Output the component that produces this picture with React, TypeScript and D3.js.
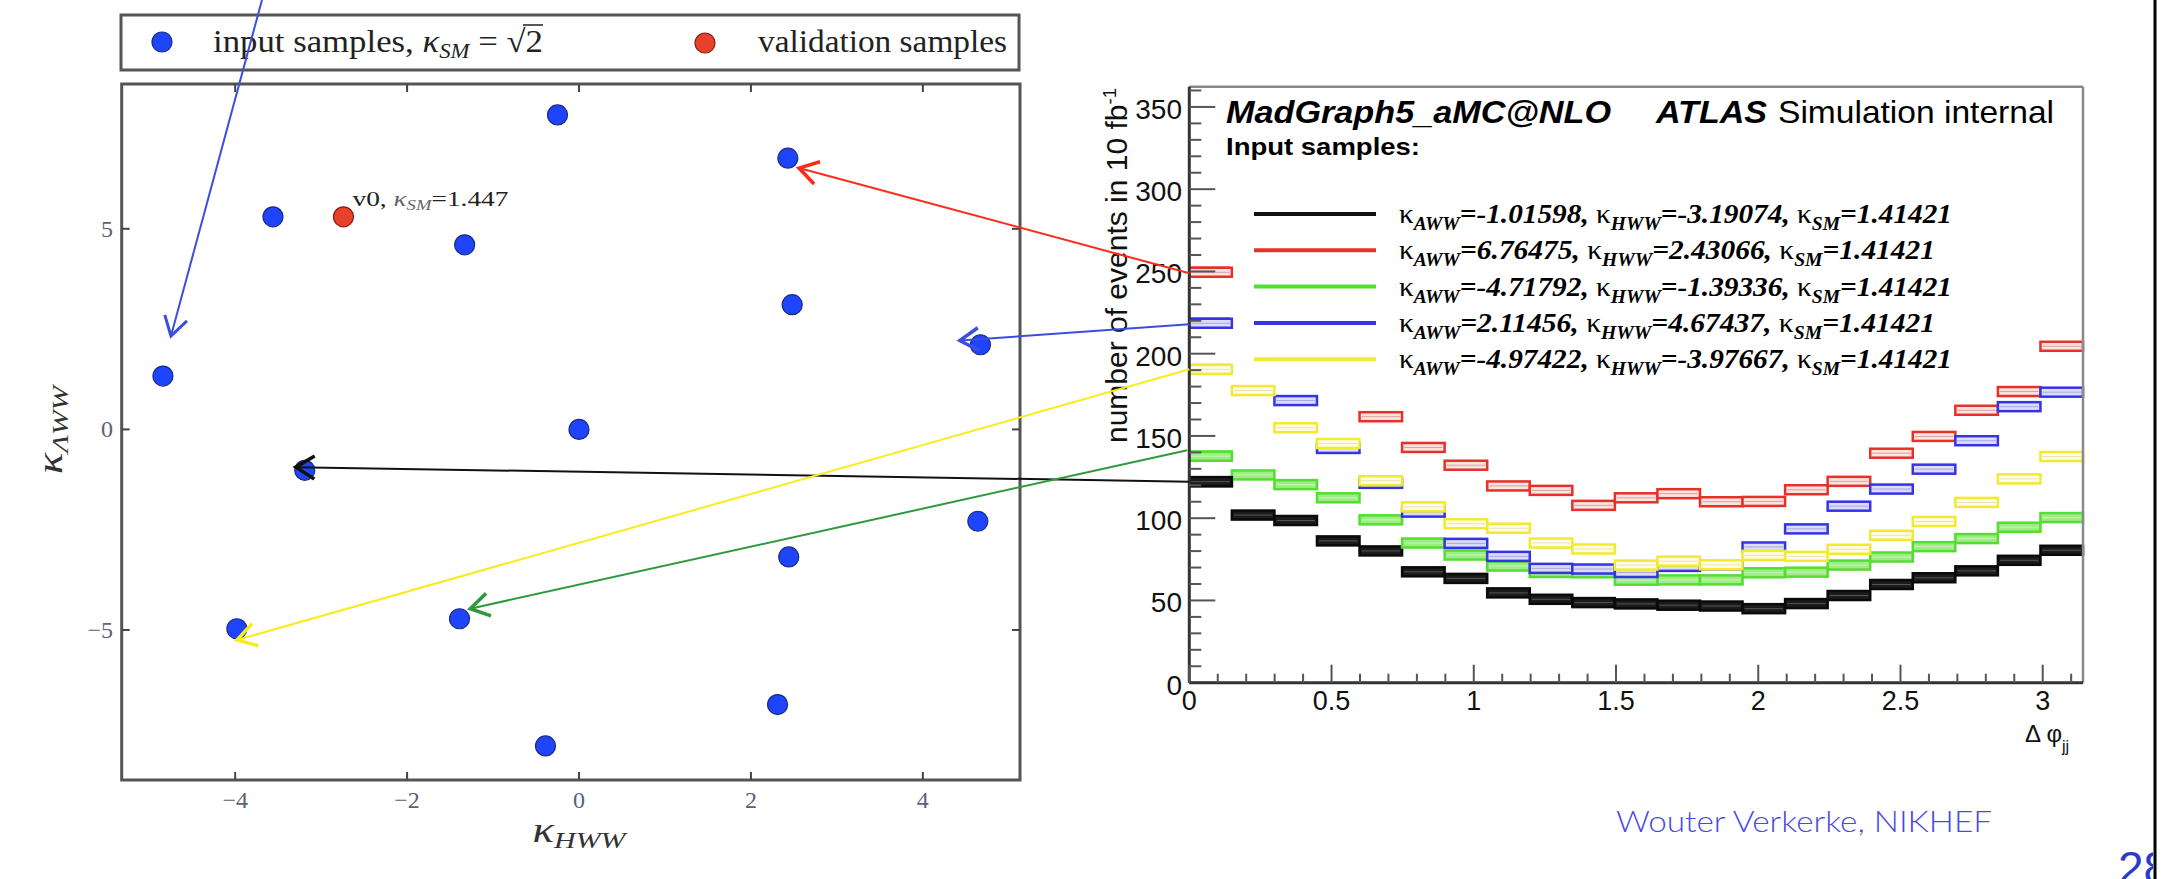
import React from 'react';
import * as d3 from 'd3';

// ---------------- DATA ----------------
// Left: coupling scan points (κHWW, κAWW)
const inputHWW = [-0.25, 2.43, -3.56, -1.33, 2.48, 4.67, -4.84, 0.0, -3.19, 4.64, 2.44, -3.98, -1.39, 2.31, -0.39];
const inputAWW = [7.84, 6.76, 5.30, 4.60, 3.11, 2.11, 1.33, 0.0, -1.02, -2.29, -3.18, -4.97, -4.72, -6.86, -7.89];
const validationHWW = [-2.74];
const validationAWW = [5.30];
const validationSM = ['1.447'];
const leftXTicks = [-4, -2, 0, 2, 4];
const leftYTicks = [-5, 0, 5];

// Right: Δφjj histograms, 21 bins over [0, π]
const nBins = 21;
const histBlack = [122.2, 101.9, 98.6, 86.2, 80.1, 67.4, 63.4, 54.6, 50.7, 48.7, 47.9, 47.1, 46.6, 45.0, 48.1, 53.0, 59.7, 63.8, 68.0, 74.4, 80.5];
const histRed = [249.5, 230, 210, 192, 161.7, 143.0, 132.2, 119.6, 116.9, 107.8, 112.4, 114.9, 110.0, 110.2, 117.3, 122.4, 139.5, 149.7, 165.6, 177.0, 204.5];
const histGreen = [137.7, 126.3, 120.4, 112.4, 99.0, 84.9, 77.6, 70.9, 67.0, 66.8, 62.3, 62.5, 62.5, 66.8, 67.2, 71.5, 76.4, 82.7, 87.6, 94.5, 100.4];
const histBlue = [218.5, 195, 171.5, 142.4, 121.2, 103.7, 84.7, 76.8, 69.5, 69.1, 67.0, 70.7, 71.7, 82.5, 93.5, 107.3, 117.7, 129.8, 147.1, 167.8, 176.6];
const histYellow = [190.5, 177.6, 155.0, 145.4, 122.8, 106.9, 96.6, 93.9, 84.9, 81.3, 71.5, 73.9, 71.7, 77.4, 76.8, 81.1, 89.6, 98.0, 109.6, 123.9, 137.5];
const sampleAWW = ['-1.01598', '6.76475', '-4.71792', '2.11456', '-4.97422'];
const sampleHWW = ['-3.19074', '2.43066', '-1.39336', '4.67437', '-3.97667'];
const sampleSM = '1.41421';
const phiMajorTicks = [0, 0.5, 1, 1.5, 2, 2.5, 3];
const countMajorTicks = [0, 50, 100, 150, 200, 250, 300, 350];

// ---------------- STYLES ----------------
const seriesStyle = [
  { data: histBlack, stroke: '#0a0a0a', fill: '#1c1c1c', mid: '#555555', arrow: '#111111', tip: [-9, -3], start: [0, 0] },
  { data: histRed, stroke: '#e8302a', fill: '#fbe3e0', mid: '#d9a0a0', arrow: '#ff2a1a', tip: [11, 10], start: [0, 1] },
  { data: histGreen, stroke: '#55dd33', fill: '#9fec86', mid: '#c8f5b8', arrow: '#2e9a3c', tip: [11, -10], start: [-2, -6] },
  { data: histBlue, stroke: '#3434e6', fill: '#dcdcfa', mid: '#a8a8e0', arrow: '#3c4ee0', tip: [-21, -4], start: [0, 1] },
  { data: histYellow, stroke: '#f2ea30', fill: '#fffce8', mid: '#e8e4b0', arrow: '#f8ec1c', tip: [0, 11], start: [0, 0] },
];
const legendColors = ['#111111', '#e8302a', '#55dd33', '#3434e6', '#f2ea30'];

const W = 2168;
const H = 879;

// left plot scales
const xL = d3.scaleLinear().domain([-5.32, 5.13]).range([121.7, 1020]);
const yL = d3.scaleLinear().domain([-8.74, 8.61]).range([780, 84]);
// right plot scales
const xR = d3.scaleLinear().domain([0, Math.PI]).range([1189.3, 2083]);
const yR = d3.scaleLinear().domain([0, 362.3]).range([682.7, 86.7]);

function arrowHead(tx: number, ty: number, fx: number, fy: number, len = 22, ang = 0.55) {
  const a = Math.atan2(fy - ty, fx - tx);
  const p1 = [tx + len * Math.cos(a + ang), ty + len * Math.sin(a + ang)];
  const p2 = [tx + len * Math.cos(a - ang), ty + len * Math.sin(a - ang)];
  return `M${p1[0]},${p1[1]}L${tx},${ty}L${p2[0]},${p2[1]}`;
}

const serif = '"Liberation Serif", "DejaVu Serif", serif';
const sans = '"Liberation Sans", Arial, sans-serif';

function Bin({ s, b, v, binW }: any) {
  const xa = xR(b * binW);
  const xb = xR((b + 1) * binW);
  const y = yR(v);
  return (
    <g>
      <rect x={xa} y={y - 4.5} width={xb - xa} height={9} fill={s.fill} stroke={s.stroke} strokeWidth={2.5} />
      <line x1={xa + 2} x2={xb - 2} y1={y} y2={y} stroke={s.mid} strokeWidth={1} />
    </g>
  );
}

export default function App() {
  const binW = Math.PI / nBins;
  const [x0L, x1L] = xL.range();
  const [y0L, y1L] = yL.range();
  const xAxisR = xR.range();
  const yAxisR = yR.range();

  const minorY = d3.range(0, 361, 10);
  const minorX = d3.range(0, Math.PI, 0.1);

  return (
    <svg width={W} height={H} style={{ position: 'absolute', left: 0, top: 0, background: '#fff' }}>
      <defs>
        <clipPath id="pageclip">
          <rect x={0} y={0} width={2153} height={H} />
        </clipPath>
      </defs>
      <rect x={0} y={0} width={W} height={H} fill="#fff" />

      {/* ================= LEFT PLOT ================= */}
      {/* legend box */}
      <rect x={121} y={15} width={898} height={55} fill="#fff" stroke="#555" strokeWidth={3} />
      <circle cx={162} cy={42} r={10} fill="#1f45fc" stroke="#1a2a80" strokeWidth={1.2} />
      <text x={213} y={52} fontFamily={serif} fontSize={32} fill="#222" textLength={330} lengthAdjust="spacingAndGlyphs">
        input samples, <tspan fontStyle="italic">κ</tspan>
        <tspan fontStyle="italic" fontSize={21} dy={6}>SM</tspan>
        <tspan dy={-6}> = √2</tspan>
      </text>
      <line x1={523} x2={543} y1={25} y2={25} stroke="#222" strokeWidth={1.5} />
      <circle cx={705} cy={43} r={10} fill="#e8402a" stroke="#802018" strokeWidth={1.2} />
      <text x={758} y={52} fontFamily={serif} fontSize={32} fill="#222" textLength={249} lengthAdjust="spacingAndGlyphs">
        validation samples
      </text>

      {/* frame */}
      <rect x={x0L} y={y1L} width={x1L - x0L} height={y0L - y1L} fill="#fff" stroke="#555" strokeWidth={3} />
      {leftXTicks.map((t) => (
        <g key={'lx' + t}>
          <line x1={xL(t)} x2={xL(t)} y1={y0L} y2={y0L - 8} stroke="#444" strokeWidth={2} />
          <line x1={xL(t)} x2={xL(t)} y1={y1L} y2={y1L + 8} stroke="#444" strokeWidth={2} />
          <text x={xL(t)} y={808} textAnchor="middle" fontFamily={serif} fontSize={24} fill="#5b6275">
            {t < 0 ? '\u2212' + Math.abs(t) : String(t)}
          </text>
        </g>
      ))}
      {leftYTicks.map((t) => (
        <g key={'ly' + t}>
          <line x1={x0L} x2={x0L + 8} y1={yL(t)} y2={yL(t)} stroke="#444" strokeWidth={2} />
          <line x1={x1L} x2={x1L - 8} y1={yL(t)} y2={yL(t)} stroke="#444" strokeWidth={2} />
          <text x={113} y={yL(t) + 8} textAnchor="end" fontFamily={serif} fontSize={24} fill="#5b6275">
            {t < 0 ? '\u2212' + Math.abs(t) : String(t)}
          </text>
        </g>
      ))}
      {/* axis titles */}
      <text x={579} y={842} textAnchor="middle" fontFamily={serif} fontStyle="italic" fontSize={36} fill="#333" textLength={93} lengthAdjust="spacingAndGlyphs">
        κ<tspan fontSize={24} dy={6}>HWW</tspan>
      </text>
      <g transform="translate(62,430) rotate(-90)">
        <text x={0} y={0} textAnchor="middle" fontFamily={serif} fontStyle="italic" fontSize={36} fill="#333" textLength={88} lengthAdjust="spacingAndGlyphs">
          κ<tspan fontSize={24} dy={6}>ΛWW</tspan>
        </text>
      </g>

      {/* points */}
      {inputHWW.map((h, i) => (
        <circle key={'p' + i} cx={xL(h)} cy={yL(inputAWW[i])} r={10} fill="#1f45fc" stroke="#1a2a80" strokeWidth={1.2} />
      ))}
      {validationHWW.map((h, i) => (
        <g key={'v' + i}>
          <circle cx={xL(h)} cy={yL(validationAWW[i])} r={10} fill="#e8402a" stroke="#802018" strokeWidth={1.2} />
          <text x={xL(h) + 9} y={yL(validationAWW[i]) - 11} fontFamily={serif} fontSize={22} fill="#222" textLength={156} lengthAdjust="spacingAndGlyphs">
            v{i}, <tspan fontStyle="italic" fill="#666">κ</tspan>
            <tspan fontStyle="italic" fontSize={15} dy={4} fill="#666">SM</tspan>
            <tspan dy={-4}>={validationSM[i]}</tspan>
          </text>
        </g>
      ))}

      {/* ================= RIGHT PLOT ================= */}
      {/* histogram bins */}
      {seriesStyle.map((s, si) => (
        <g key={'s' + si}>
          {s.data.map((v, b) => (
            <Bin key={b} s={s} b={b} v={v} binW={binW} />
          ))}
        </g>
      ))}

      {/* legend background (hides bins behind the legend) */}
      <rect x={xR(binW) - 2} y={190} width={1990 - xR(binW)} height={190} fill="#fff" />
      {/* first bin stays visible left of the legend */}
      {seriesStyle.map((s, si) => (
        <Bin key={'b0' + si} s={s} b={0} v={s.data[0]} binW={binW} />
      ))}

      {/* frame: top/right gray */}
      <line x1={xAxisR[0]} x2={xAxisR[1]} y1={yAxisR[1]} y2={yAxisR[1]} stroke="#8a8a8a" strokeWidth={2.5} />
      <line x1={xAxisR[1]} x2={xAxisR[1]} y1={yAxisR[1]} y2={yAxisR[0]} stroke="#8a8a8a" strokeWidth={2.5} />

      {/* y axis */}
      <line x1={xAxisR[0]} x2={xAxisR[0]} y1={yAxisR[0]} y2={yAxisR[1]} stroke="#333" strokeWidth={3} />
      {minorY.map((v) => (
        <line key={'my' + v} x1={xAxisR[0]} x2={xAxisR[0] + (v % 50 === 0 ? 26 : 12)} y1={yR(v)} y2={yR(v)} stroke="#555" strokeWidth={2} />
      ))}
      {countMajorTicks.map((v) => (
        <text key={'ty' + v} x={1182} y={yR(v) + 12} textAnchor="end" fontFamily={sans} fontSize={28} fill="#111">
          {v}
        </text>
      ))}
      {/* x axis */}
      <line x1={xAxisR[0]} x2={xAxisR[1]} y1={yAxisR[0]} y2={yAxisR[0]} stroke="#333" strokeWidth={3} />
      {minorX.map((v, i) => (
        <line key={'mx' + i} x1={xR(v)} x2={xR(v)} y1={yAxisR[0]} y2={yAxisR[0] - (i % 5 === 0 ? 18 : 9)} stroke="#555" strokeWidth={2} />
      ))}
      {phiMajorTicks.map((v) => (
        <text key={'tx' + v} x={xR(v)} y={710} textAnchor="middle" fontFamily={sans} fontSize={27} fill="#111">
          {v}
        </text>
      ))}
      <text x={2025} y={742} fontFamily={sans} fontSize={24} fill="#111">
        Δ φ<tspan fontSize={16} dy={10}>jj</tspan>
      </text>
      <g transform="translate(1127,88) rotate(-90)">
        <text x={0} y={0} textAnchor="end" fontFamily={sans} fontSize={29} fill="#111" textLength={355} lengthAdjust="spacingAndGlyphs">
          number of events in 10 fb<tspan fontSize={18} dy={-11}>-1</tspan>
        </text>
      </g>

      {/* title */}
      <text x={1226} y={123} fontFamily={sans} fontWeight="bold" fontStyle="italic" fontSize={32} fill="#000" textLength={385} lengthAdjust="spacingAndGlyphs">
        MadGraph5_aMC@NLO
      </text>
      <text x={1656} y={123} fontFamily={sans} fontWeight="bold" fontStyle="italic" fontSize={32} fill="#000" textLength={111} lengthAdjust="spacingAndGlyphs">
        ATLAS
      </text>
      <text x={1778} y={123} fontFamily={sans} fontSize={32} fill="#000" textLength={276} lengthAdjust="spacingAndGlyphs">
        Simulation internal
      </text>
      <text x={1226} y={155} fontFamily={sans} fontWeight="bold" fontSize={24} fill="#000" textLength={194} lengthAdjust="spacingAndGlyphs">
        Input samples:
      </text>

      {/* legend entries */}
      {sampleAWW.map((a, i) => {
        const ly = 214 + i * 36.3;
        const long = a.startsWith('-') || sampleHWW[i].startsWith('-');
        return (
          <g key={'le' + i}>
            <line x1={1254} x2={1376} y1={ly} y2={ly} stroke={legendColors[i]} strokeWidth={4} />
            <text x={1399} y={ly + 9} fontFamily={serif} fontStyle="italic" fontWeight="bold" fontSize={27} fill="#000" textLength={long ? 553 : 536} lengthAdjust="spacingAndGlyphs">
              <tspan fontStyle="normal" fontWeight="normal">κ</tspan>
              <tspan fontSize={18} dy={7}>AWW</tspan>
              <tspan dy={-7}>={a}, </tspan>
              <tspan fontStyle="normal" fontWeight="normal">κ</tspan>
              <tspan fontSize={18} dy={7}>HWW</tspan>
              <tspan dy={-7}>={sampleHWW[i]}, </tspan>
              <tspan fontStyle="normal" fontWeight="normal">κ</tspan>
              <tspan fontSize={18} dy={7}>SM</tspan>
              <tspan dy={-7}>={sampleSM}</tspan>
            </text>
          </g>
        );
      })}

      {/* ================= ARROWS ================= */}
      {seriesStyle.map((s, i) => {
        const sx = xR(0) + s.start[0];
        const sy = yR(s.data[0]) + s.start[1];
        const tx = xL(parseFloat(sampleHWW[i])) + s.tip[0];
        const ty = yL(parseFloat(sampleAWW[i])) + s.tip[1];
        return (
          <g key={'ar' + i} fill="none" stroke={s.arrow}>
            <line x1={sx} y1={sy} x2={tx} y2={ty} strokeWidth={2} />
            <path d={arrowHead(tx, ty, sx, sy)} strokeWidth={3.5} strokeLinejoin="miter" />
          </g>
        );
      })}
      {(() => {
        const tx = xL(inputHWW[6]) + 8;
        const ty = yL(inputAWW[6]) - 40;
        const sx = 262;
        const sy = 0;
        return (
          <g fill="none" stroke="#3c4ee0">
            <line x1={sx} y1={sy} x2={tx} y2={ty} strokeWidth={2} />
            <path d={arrowHead(tx, ty, sx, sy)} strokeWidth={3} />
          </g>
        );
      })()}

      {/* ================= FOOTER ================= */}
      <text x={1616} y={832} fontFamily={'Lato, "Liberation Sans", sans-serif'} fontWeight={300} fontSize={30} fill="#4a4adf" textLength={376} lengthAdjust="spacingAndGlyphs">
        Wouter Verkerke, NIKHEF
      </text>
      <g clipPath="url(#pageclip)">
        <text x={2118} y={884} fontFamily={sans} fontSize={46} fill="#2a3acc">28</text>
      </g>
      <line x1={2155} x2={2155} y1={0} y2={H} stroke="#000" strokeWidth={3} />
    </svg>
  );
}
